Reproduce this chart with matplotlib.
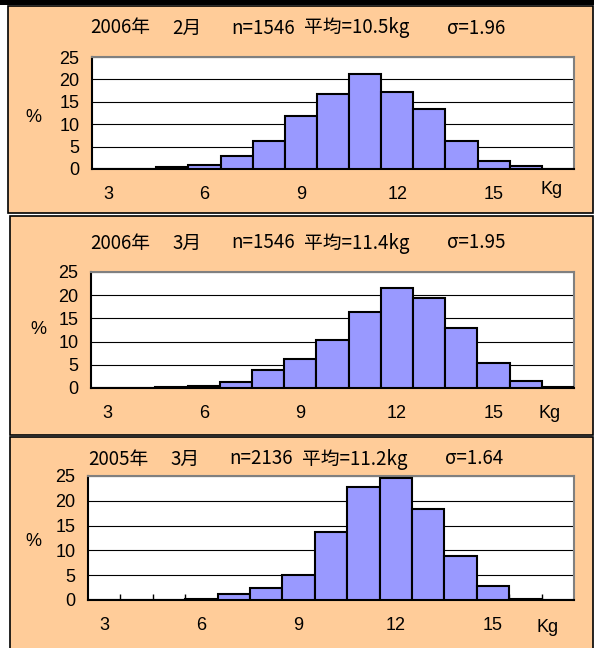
import matplotlib
matplotlib.use("Agg")
import matplotlib.pyplot as plt
from matplotlib.patches import Rectangle

plt.rcParams['font.family'] = ['Noto Sans CJK JP', 'DejaVu Sans']

# weight classes (kg), one bar per class
classes = [3, 4, 5, 6, 7, 8, 9, 10, 11, 12, 13, 14, 15, 16, 17]
tick_labels = ['3', '6', '9', '12', '15']

# percentages per class
feb_2006 = [0.0, 0.1, 0.4, 0.9, 2.9, 6.2, 11.8, 16.7, 21.2, 17.1, 13.5, 6.2, 1.8, 0.7, 0.1]
mar_2006 = [0.0, 0.0, 0.15, 0.5, 1.4, 3.9, 6.3, 10.3, 16.4, 21.5, 19.5, 13.0, 5.3, 1.6, 0.3]
mar_2005 = [0.0, 0.0, 0.0, 0.2, 1.3, 2.35, 5.0, 13.7, 22.7, 24.5, 18.4, 8.9, 2.8, 0.2, 0.1]

# title pieces per panel
title_parts = [["2006年", "2月", "n=1546", "平均=10.5kg", "σ=1.96"],
               ["2006年", "3月", "n=1546", "平均=11.4kg", "σ=1.95"],
               ["2005年", "3月", "n=2136", "平均=11.2kg", "σ=1.64"]]
part_x = [90, 172, 231, 304, 447]

W, H = 594, 648
fig = plt.figure(figsize=(W / 100, H / 100), dpi=100)

def fx(px):
    return px / W

def fy(py):
    return 1 - py / H

# black strip across the top
fig.patches.append(Rectangle((0, fy(5)), 1, 5 / H, transform=fig.transFigure,
                             facecolor='black', edgecolor='none', zorder=-5))

# panel boxes: (left, top, bottom) in pixels
panels = [(8, 6, 213), (10, 216, 435), (10, 437, 650)]
# plot areas: (left, right, top, bottom)
plots = [(92, 574, 57, 169), (91, 574, 272, 388), (88, 574, 476, 600)]
title_y = [28, 243, 459]
title_dx = [0, 0, -2]
pct_pos = [(33, 117), (38, 330), (33, 541)]
kg_pos = [(552, 189), (550, 413), (548, 628)]
series = [feb_2006, mar_2006, mar_2005]
tick_font = ['Liberation Sans', 'DejaVu Sans']

for i in range(3):
    l, t, b = panels[i]
    fig.patches.append(Rectangle((fx(l), fy(b)), 1 - fx(l) - fx(1), (b - t) / H,
                                 transform=fig.transFigure, facecolor='#FFCC99',
                                 edgecolor='black', lw=1.2, zorder=-5))

    pl, pr, pt, pb = plots[i]
    ax = fig.add_axes([fx(pl), fy(pb), (pr - pl) / W, (pb - pt) / H])
    ax.set_facecolor('white')
    ax.bar(range(len(classes)), series[i], width=1, color='#9999FF',
           edgecolor='black', lw=1.5, zorder=3)
    ax.set_xlim(-0.5, len(classes) - 0.5)
    ax.set_ylim(0, 25)
    ax.set_yticks([0, 5, 10, 15, 20, 25])
    ax.yaxis.grid(True, color='black', lw=0.8, zorder=0)
    ax.set_axisbelow(True)
    ax.set_xticks([0, 3, 6, 9, 12])
    ax.set_xticklabels(tick_labels)
    ax.tick_params(axis='y', length=0, pad=9, labelsize=13)
    if i == 2:
        ax.set_xticks([k + 0.5 for k in range(len(classes) - 1)], minor=True)
        ax.tick_params(axis='x', which='minor', direction='in', length=4, width=1, color='black')
    ax.tick_params(axis='x', which='major', length=0, pad=12, labelsize=13)
    for lab in ax.get_xticklabels() + ax.get_yticklabels():
        lab.set_family(tick_font)
    for s in ['top', 'right']:
        ax.spines[s].set_color('#808080')
        ax.spines[s].set_linewidth(1.5)
    for s in ['left', 'bottom']:
        ax.spines[s].set_color('black')
        ax.spines[s].set_linewidth(1.5)

    for part, x in zip(title_parts[i], part_x):
        fig.text(fx(x + title_dx[i]), fy(title_y[i]), part, ha='left', va='center',
                 fontsize=13.5)
    fig.text(fx(pct_pos[i][0]), fy(pct_pos[i][1]), '%', ha='center', va='center',
             fontsize=13, family=tick_font)
    fig.text(fx(kg_pos[i][0]), fy(kg_pos[i][1]), 'Kg', ha='center', va='center',
             fontsize=13, family=tick_font)

fig.savefig('out.png', dpi=100)
